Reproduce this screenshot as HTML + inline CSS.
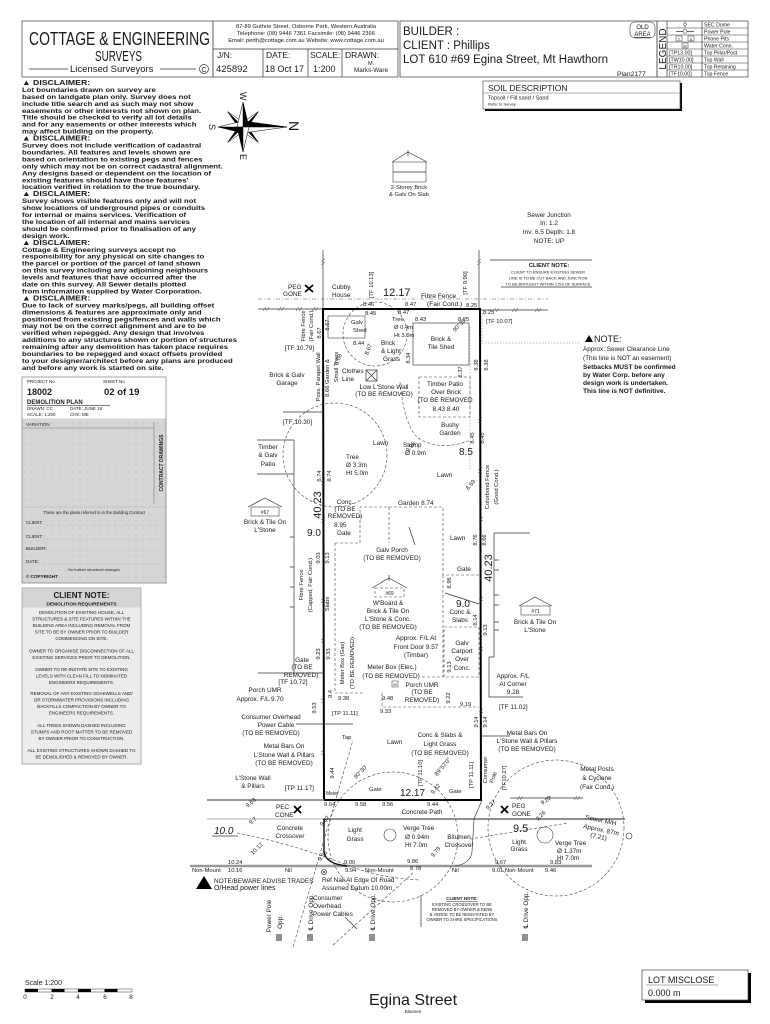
<!DOCTYPE html>
<html><head><meta charset="utf-8">
<style>
html,body{margin:0;padding:0;background:#fff;}
svg{display:block;}
text{font-family:"Liberation Sans","DejaVu Sans",sans-serif;fill:#1a1a1a;}
.a{font-size:6.4px}
.t{font-size:5.8px}
.b{font-size:5.2px}
.c{font-size:7px}
.m{text-anchor:middle}
.d{fill:none;stroke:#444;stroke-width:0.6;stroke-dasharray:3 2}
.dd{fill:none;stroke:#555;stroke-width:0.6;stroke-dasharray:4 2 1 2}
.l{fill:none;stroke:#333;stroke-width:0.7}
.g{fill:none;stroke:#999;stroke-width:0.8}
.k{fill:none;stroke:#000;stroke-width:2}
.tk{fill:none;stroke:#333;stroke-width:0.5}
.dis{font-size:6.6px;font-weight:bold}
</style></head><body>
<svg width="770" height="1024" viewBox="0 0 770 1024" xmlns="http://www.w3.org/2000/svg">
<defs>
<pattern id="dots" width="7" height="7" patternUnits="userSpaceOnUse"><rect width="7" height="7" fill="#d6d6d6"/><circle cx="3" cy="3" r="0.5" fill="#aaa"/></pattern>
</defs>

<!-- HEADER -->
<rect x="22" y="21" width="191" height="56" fill="none" stroke="#555" stroke-width="0.8"/>
<text x="29" y="45" font-size="18" textLength="181" lengthAdjust="spacingAndGlyphs" fill="#222">COTTAGE &amp; ENGINEERING</text>
<text x="95" y="61" font-size="15" textLength="47" lengthAdjust="spacingAndGlyphs">SURVEYS</text>
<line x1="29" y1="69" x2="68" y2="69" class="l"/>
<text x="70" y="72" font-size="9.5" fill="#333">Licensed Surveyors</text>
<line x1="160" y1="69" x2="196" y2="69" class="l"/>
<circle cx="204" cy="69" r="4.5" fill="none" stroke="#333" stroke-width="0.7"/>
<text x="204" y="72" font-size="7" class="m">C</text>

<rect x="213" y="21" width="185" height="56" fill="none" stroke="#555" stroke-width="0.8"/>
<text x="306" y="28" font-size="5.8" class="m" fill="#333">87-89 Guthrie Street, Osborne Park, Western Australia</text>
<text x="306" y="35" font-size="5.8" class="m" fill="#333">Telephone: (08) 9446 7361   Facsimile: (08) 9446 2366</text>
<text x="306" y="42" font-size="5.8" class="m" fill="#333">Email: perth@cottage.com.au   Website: www.cottage.com.au</text>
<line x1="213" y1="49" x2="398" y2="49" class="l"/>
<line x1="263" y1="49" x2="263" y2="77" class="l"/>
<line x1="308" y1="49" x2="308" y2="77" class="l"/>
<line x1="342" y1="49" x2="342" y2="77" class="l"/>
<text x="217" y="58" font-size="8.5" fill="#333">J/N:</text>
<text x="216" y="72" font-size="9.5">425892</text>
<text x="266" y="58" font-size="8.5" fill="#333">DATE:</text>
<text x="265" y="72" font-size="9">18 Oct 17</text>
<text x="310" y="58" font-size="8.5" fill="#333">SCALE:</text>
<text x="313" y="72" font-size="9">1:200</text>
<text x="345" y="58" font-size="8.5" fill="#333">DRAWN:</text>
<text x="371" y="65" font-size="5.5" class="m">M.</text>
<text x="371" y="72" font-size="6.3" class="m">Marks-Ware</text>

<rect x="400" y="21" width="257" height="56" fill="none" stroke="#555" stroke-width="0.8"/>
<text x="403" y="35" font-size="11.5">BUILDER :</text>
<text x="403" y="49" font-size="11.5">CLIENT : Phillips</text>
<text x="403" y="63" font-size="11.5">LOT 610   #69 Egina Street, Mt Hawthorn</text>
<text x="617" y="76" font-size="6.8">Plan2177</text>
<rect x="630" y="22" width="25" height="16" rx="5" fill="none" stroke="#444" stroke-width="0.6"/>
<text x="642.5" y="29" font-size="6" class="m">OLD</text>
<text x="642.5" y="36" font-size="6" class="m" text-decoration="underline">AREA</text>

<rect x="657" y="21" width="91" height="56" fill="none" stroke="#555" stroke-width="0.8"/>
<line x1="667" y1="21" x2="667" y2="77" class="l"/>
<line x1="702" y1="21" x2="702" y2="77" class="l"/>
<g class="tk">
<line x1="667" y1="28" x2="748" y2="28"/><line x1="667" y1="35" x2="748" y2="35"/><line x1="667" y1="42" x2="748" y2="42"/><line x1="667" y1="49" x2="748" y2="49"/><line x1="667" y1="56" x2="748" y2="56"/><line x1="667" y1="63" x2="748" y2="63"/><line x1="667" y1="70" x2="748" y2="70"/>
</g>
<text transform="translate(666,49) rotate(-90)" font-size="10" class="m">LEGEND</text>
<line x1="685" y1="21.5" x2="685" y2="27.5" class="l"/><circle cx="685" cy="24.5" r="1.5" fill="#fff" stroke="#333" stroke-width="0.5"/>
<line x1="676" y1="31.5" x2="694" y2="31.5" class="l"/><circle cx="685" cy="31.5" r="2" fill="#fff" stroke="#333" stroke-width="0.5"/>
<rect x="676" y="36" width="6" height="5" fill="none" stroke="#333" stroke-width="0.5"/><rect x="688" y="36" width="6" height="5" fill="none" stroke="#333" stroke-width="0.5"/>
<text x="679" y="40.3" font-size="4" class="m">T</text><text x="691" y="40.3" font-size="4" class="m">S</text>
<rect x="682" y="43" width="6" height="5" fill="none" stroke="#333" stroke-width="0.5"/><text x="685" y="47.3" font-size="4" class="m">W</text>
<text x="669" y="54.5" font-size="5.3">[TP13.00]</text>
<text x="669" y="61.5" font-size="5.3">[TW10.00]</text>
<text x="669" y="68.5" font-size="5.3">[TR10.00]</text>
<text x="669" y="75.5" font-size="5.3">[TF10.00]</text>
<g font-size="5.2">
<text x="704" y="26.5">SEC Dome</text><text x="704" y="33.5">Power Pole</text><text x="704" y="40.5">Phone Pits</text><text x="704" y="47.5">Water Conn.</text><text x="704" y="54.5">Top Pillar/Post</text><text x="704" y="61.5">Top Wall</text><text x="704" y="68.5">Top Retaining</text><text x="704" y="75.5">Top Fence</text>
</g>

<!-- DISCLAIMERS -->
<g transform="translate(22,0) scale(1.18,1) translate(-22,0)">
<text class="dis">
<tspan x="22" y="85" font-size="7.4">▲ DISCLAIMER:</tspan>
<tspan x="22" dy="6.95">Lot boundaries drawn on survey are</tspan>
<tspan x="22" dy="6.95">based on landgate plan only. Survey does not</tspan>
<tspan x="22" dy="6.95">include title search and as such may not show</tspan>
<tspan x="22" dy="6.95">easements or other interests not shown on plan.</tspan>
<tspan x="22" dy="6.95">Title should be checked to verify all lot details</tspan>
<tspan x="22" dy="6.95">and for any easements or other interests which</tspan>
<tspan x="22" dy="6.95">may affect building on the property.</tspan>
<tspan x="22" dy="6.95" font-size="7.4">▲ DISCLAIMER:</tspan>
<tspan x="22" dy="6.95">Survey does not include verification of cadastral</tspan>
<tspan x="22" dy="6.95">boundaries. All features and levels shown are</tspan>
<tspan x="22" dy="6.95">based on orientation to existing pegs and fences</tspan>
<tspan x="22" dy="6.95">only which may not be on correct cadastral alignment.</tspan>
<tspan x="22" dy="6.95">Any designs based or dependent on the location of</tspan>
<tspan x="22" dy="6.95">existing features should have those features'</tspan>
<tspan x="22" dy="6.95">location verified in relation to the true boundary.</tspan>
<tspan x="22" dy="6.95" font-size="7.4">▲ DISCLAIMER:</tspan>
<tspan x="22" dy="6.95">Survey shows visible features only and will not</tspan>
<tspan x="22" dy="6.95">show locations of underground pipes or conduits</tspan>
<tspan x="22" dy="6.95">for internal or mains services. Verification of</tspan>
<tspan x="22" dy="6.95">the location of all internal and mains services</tspan>
<tspan x="22" dy="6.95">should be confirmed prior to finalisation of any</tspan>
<tspan x="22" dy="6.95">design work.</tspan>
<tspan x="22" dy="6.95" font-size="7.4">▲ DISCLAIMER:</tspan>
<tspan x="22" dy="6.95">Cottage &amp; Engineering surveys accept no</tspan>
<tspan x="22" dy="6.95">responsibility for any physical on site changes to</tspan>
<tspan x="22" dy="6.95">the parcel or portion of the parcel of land shown</tspan>
<tspan x="22" dy="6.95">on this survey including any adjoining neighbours</tspan>
<tspan x="22" dy="6.95">levels and features that have occurred after the</tspan>
<tspan x="22" dy="6.95">date on this survey. All Sewer details plotted</tspan>
<tspan x="22" dy="6.95">from information supplied by Water Corporation.</tspan>
<tspan x="22" dy="6.95" font-size="7.4">▲ DISCLAIMER:</tspan>
<tspan x="22" dy="6.95">Due to lack of survey marks/pegs, all building offset</tspan>
<tspan x="22" dy="6.95">dimensions &amp; features are approximate only and</tspan>
<tspan x="22" dy="6.95">positioned from existing pegs/fences and walls which</tspan>
<tspan x="22" dy="6.95">may not be on the correct alignment and are to be</tspan>
<tspan x="22" dy="6.95">verified when repegged. Any design that involves</tspan>
<tspan x="22" dy="6.95">additions to any structures shown or portion of structures</tspan>
<tspan x="22" dy="6.95">remaining after any demolition has taken place requires</tspan>
<tspan x="22" dy="6.95">boundaries to be repegged and exact offsets provided</tspan>
<tspan x="22" dy="6.95">to your designer/architect before any plans are produced</tspan>
<tspan x="22" dy="6.95">and before any work is started on site.</tspan>
</text>
</g>

<!-- COMPASS -->
<g stroke="#000" stroke-width="0.5" stroke-linejoin="round">
<polygon points="243,127 258.5,111.5 245.8,129.8" fill="#000"/><polygon points="243,127 258.5,111.5 240.2,124.2" fill="#fff"/>
<polygon points="243,127 258.5,142.5 245.8,124.2" fill="#000"/><polygon points="243,127 258.5,142.5 240.2,129.8" fill="#fff"/>
<polygon points="243,127 227.5,142.5 240.2,124.2" fill="#000"/><polygon points="243,127 227.5,142.5 245.8,129.8" fill="#fff"/>
<polygon points="243,127 227.5,111.5 240.2,129.8" fill="#000"/><polygon points="243,127 227.5,111.5 245.8,124.2" fill="#fff"/>
<polygon points="243,127 287,127 243,121" fill="#000"/><polygon points="243,127 287,127 243,133" fill="#fff"/>
<polygon points="243,127 218,127 243,133" fill="#000"/><polygon points="243,127 218,127 243,121" fill="#fff"/>
<polygon points="243,127 243,102 249,127" fill="#000"/><polygon points="243,127 243,102 237,127" fill="#fff"/>
<polygon points="243,127 243,152 237,127" fill="#000"/><polygon points="243,127 243,152 249,127" fill="#fff"/>
</g>
<text transform="translate(289,121) rotate(90)" font-size="14">N</text>
<text transform="translate(209,124) rotate(90)" font-size="9">S</text>
<text transform="translate(240,92) rotate(90)" font-size="9">W</text>
<text transform="translate(240,154) rotate(90)" font-size="9">E</text>

<!-- 2 storey house -->
<polyline points="392,162 408,152 427,162" class="l"/>
<line x1="408" y1="150" x2="408" y2="156" class="l"/>
<rect x="393" y="162" width="33" height="20" fill="none" stroke="#444" stroke-width="0.6"/>
<line x1="393" y1="172" x2="426" y2="172" class="l"/>
<text x="409" y="189" class="t m">2-Storey Brick</text>
<text x="409" y="196" class="t m">&amp; Galv On Slab</text>

<!-- SOIL -->
<rect x="485" y="83" width="197" height="28" fill="#000"/>
<rect x="483" y="81" width="197" height="28" fill="#fff" stroke="#555" stroke-width="0.7"/>
<text x="488" y="91" font-size="8.5">SOIL DESCRIPTION</text>
<line x1="483" y1="93" x2="680" y2="93" class="g"/>
<text x="488" y="99.5" font-size="5.6">Topsoil / Fill sand / Sand</text>
<text x="488" y="105.5" font-size="4">Refer to Survey</text>

<!-- Sewer junction -->
<text x="549" y="217" class="a m">Sewer Junction</text>
<text x="549" y="225" class="a m">In: 1.2</text>
<text x="549" y="234" class="a m">Inv: 6.5 Depth: 1.8</text>
<text x="549" y="243" class="a m">NOTE: UP</text>
<line x1="490" y1="260" x2="592" y2="260" class="l"/>
<text x="549" y="267" font-size="5.8" font-weight="bold" class="m">CLIENT NOTE:</text>
<text x="548" y="273.5" font-size="4" class="m">CLIENT TO ENSURE EXISTING SEWER</text>
<text x="548" y="279.5" font-size="4" class="m">LINE IS TO BE CUT BACK AND JUNCTION</text>
<text x="548" y="285.5" font-size="4" class="m">TO BE BROUGHT WITHIN 1.5m OF SURFACE</text>
<line x1="501" y1="287" x2="592" y2="287" class="l"/>

<!-- NOTE right -->
<polygon points="585,342 589,335 593,342" fill="#000"/>
<text x="594" y="342" font-size="9">NOTE:</text>
<text x="583" y="351" class="a">Approx. Sewer Clearance Line</text>
<text x="583" y="360" class="a">(This line is NOT an easement)</text>
<g font-size="6.6" font-weight="bold">
<text x="583" y="369">Setbacks MUST be confirmed</text>
<text x="583" y="377">by Water Corp. before any</text>
<text x="583" y="385">design work is undertaken.</text>
<text x="583" y="393">This line is NOT definitive.</text>
</g>
<line x1="482" y1="343" x2="580" y2="343" stroke="#777" stroke-width="0.6" stroke-dasharray="1.5 1.5"/>
<line x1="482" y1="313" x2="482" y2="343" stroke="#777" stroke-width="0.6" stroke-dasharray="1.5 1.5"/>

<!-- LEFT PANELS -->
<rect x="22" y="377" width="144" height="206" fill="url(#dots)" stroke="#888" stroke-width="0.8"/>
<rect x="22.4" y="377.4" width="143.2" height="41" fill="#fff"/>
<text x="27" y="383" font-size="4.5" fill="#555">PROJECT No</text>
<text x="103" y="383" font-size="4.5" fill="#555">SHEET No</text>
<text x="27" y="395" font-size="9" font-weight="bold">18002</text>
<text x="104" y="395" font-size="9.5" font-weight="bold">02  of 19</text>
<text x="27" y="404" font-size="6" font-weight="bold">DEMOLITION PLAN</text>
<line x1="27" y1="405.3" x2="110" y2="405.3" class="l"/>
<text x="27" y="410" font-size="4.5" fill="#444">DRAWN: CC</text><text x="70" y="410" font-size="4.5" fill="#444">DATE: JUNE 18</text>
<text x="27" y="416" font-size="4.5" fill="#444">SCALE: 1:200</text><text x="70" y="416" font-size="4.5" fill="#444">CHK: ME</text>
<text x="26" y="426" font-size="4.5" fill="#444">VARIATION</text>
<line x1="22" y1="428" x2="154" y2="428" class="g"/>
<line x1="154" y1="422" x2="154" y2="504" stroke="#777" stroke-width="0.6"/>
<text transform="translate(163,463) rotate(-90)" font-size="5" font-weight="bold" class="m">CONTRACT DRAWINGS</text>
<line x1="22" y1="507" x2="166" y2="507" stroke="#999" stroke-width="0.6" stroke-dasharray="1 1"/>
<text x="94" y="514" font-size="4.2" class="m" fill="#333">These are the plans referred to in the Building Contract</text>
<text x="26" y="524" font-size="4.5" fill="#444">CLIENT:</text><line x1="45" y1="525" x2="160" y2="525" stroke="#aaa" stroke-width="0.5" stroke-dasharray="1 1"/>
<text x="26" y="538" font-size="4.5" fill="#444">CLIENT:</text><line x1="45" y1="539" x2="160" y2="539" stroke="#aaa" stroke-width="0.5" stroke-dasharray="1 1"/>
<text x="26" y="550" font-size="4.5" fill="#444">BUILDER:</text><line x1="48" y1="551" x2="160" y2="551" stroke="#aaa" stroke-width="0.5" stroke-dasharray="1 1"/>
<text x="26" y="563" font-size="4.5" fill="#444">DATE:</text><line x1="42" y1="564" x2="160" y2="564" stroke="#aaa" stroke-width="0.5" stroke-dasharray="1 1"/>
<text x="94" y="571" font-size="4" class="m" fill="#333">No further structural changes</text>
<text x="26" y="578" font-size="4.6" font-weight="bold">© COPYRIGHT</text>

<rect x="22" y="588" width="119" height="176" fill="#ececec" stroke="#999" stroke-width="0.8"/>
<rect x="22.4" y="588.4" width="118.2" height="19" fill="#d4d4d4"/>
<text x="81.5" y="598" font-size="8" font-weight="bold" class="m">CLIENT NOTE:</text>
<text x="81.5" y="605.5" font-size="4.8" font-weight="bold" class="m">DEMOLITION REQUIREMENTS</text>
<g font-size="4.5" text-anchor="middle" fill="#333">
<text x="81.5" y="614">DEMOLITION OF EXISTING HOUSE, ALL</text>
<text x="81.5" y="620.5">STRUCTURES &amp; SITE FEATURES WITHIN THE</text>
<text x="81.5" y="627">BUILDING AREA INCLUDING REMOVAL FROM</text>
<text x="81.5" y="633.5">SITE TO BE BY OWNER PRIOR TO BUILDER</text>
<text x="81.5" y="640">COMMENCING ON SITE.</text>
<text x="81.5" y="652.5">OWNER TO ORGANISE DISCONNECTION OF ALL</text>
<text x="81.5" y="659">EXISTING SERVICES PRIOR TO DEMOLITION.</text>
<text x="81.5" y="671">OWNER TO RE-INSTATE SITE TO EXISTING</text>
<text x="81.5" y="677.5">LEVELS WITH CLEAN FILL TO NOMINATED</text>
<text x="81.5" y="684">ENGINEERS REQUIREMENTS.</text>
<text x="81.5" y="695">REMOVAL OF ANY EXISTING SOAKWELLS AND/</text>
<text x="81.5" y="701.5">OR STORMWATER PROVISIONS INCLUDING</text>
<text x="81.5" y="708">BACKFILLS COMPACTION BY OWNER TO</text>
<text x="81.5" y="714.5">ENGINEERS REQUIREMENTS.</text>
<text x="81.5" y="727">ALL TREES SHOWN DASHED INCLUDING</text>
<text x="81.5" y="733.5">STUMPS AND ROOT MATTER TO BE REMOVED</text>
<text x="81.5" y="740">BY OWNER PRIOR TO CONSTRUCTION.</text>
<text x="81.5" y="752">ALL EXISTING STRUCTURES SHOWN DASHED TO</text>
<text x="81.5" y="758.5">BE DEMOLISHED &amp; REMOVED BY OWNER.</text>
</g>

<!-- SITE LINES -->
<line x1="258" y1="299" x2="548" y2="299" class="dd"/>
<line x1="258" y1="309" x2="323" y2="309" class="l"/>
<line x1="480" y1="310" x2="548" y2="310" class="l"/>
<line x1="323" y1="250" x2="323" y2="309" class="l"/>
<line x1="479" y1="250" x2="479" y2="309" class="l"/>
<polygon points="323,309 480,309 481,800 324,800" class="k"/>
<g class="tk">
<path d="M263,311 l3,-4 M266,311 l3,-4 M278,311 l3,-4 M281,311 l3,-4 M296,311 l3,-4 M299,311 l3,-4 M312,311 l3,-4 M315,311 l3,-4"/>
<path d="M493,312 l3,-4 M496,312 l3,-4 M512,312 l3,-4 M515,312 l3,-4 M535,312 l3,-4 M538,312 l3,-4"/>
<path d="M321,262 l4,-3 M321,265 l4,-3 M477,262 l4,-3 M477,265 l4,-3"/>
<path d="M321,482 l4,-3 M321,485 l4,-3 M321,520 l4,-3 M321,523 l4,-3 M321,600 l4,-3 M321,603 l4,-3 M321,640 l4,-3 M321,643 l4,-3 M321,700 l4,-3 M321,703 l4,-3 M321,752 l4,-3 M321,755 l4,-3"/>
<path d="M478,420 l4,-3 M478,423 l4,-3 M478,470 l4,-3 M478,473 l4,-3 M479,520 l4,-3 M479,523 l4,-3 M479,600 l4,-3 M479,603 l4,-3 M479,650 l4,-3 M479,653 l4,-3 M479,712 l4,-3 M479,715 l4,-3"/>
</g>

<!-- top-left features -->
<line x1="305" y1="285" x2="313" y2="292" stroke="#000" stroke-width="1.8"/><line x1="313" y1="285" x2="305" y2="292" stroke="#000" stroke-width="1.8"/>
<text x="288" y="289" class="a">PEG</text>
<text x="283" y="296" class="a">GONE</text>
<text x="332" y="289" class="a">Cubby</text>
<text x="332" y="297" class="a">House</text>
<text transform="translate(373,285) rotate(-90)" class="t m">[TF 10.13]</text>
<text x="383" y="296" font-size="11">12.17</text>
<text x="421" y="298" font-size="6.6">Fibre Fence</text>
<text x="427" y="306" font-size="6.6">(Fair Cond.)</text>
<text transform="translate(467,283) rotate(-90)" class="t m">[TF 9.90]</text>
<circle cx="375" cy="334" r="32" class="d"/>
<rect x="328" y="316" width="37" height="22" fill="none" stroke="#444" stroke-width="0.6"/>
<rect x="413" y="323" width="56" height="42" fill="none" stroke="#444" stroke-width="0.7"/>
<rect x="366" y="370" width="11" height="11" fill="none" stroke="#333" stroke-width="0.7"/>
<path d="M366,370 L377,381 M377,370 L366,381" class="l"/>
<rect x="419" y="377" width="51" height="40" class="d"/>
<path d="M400,382 Q404,425 418,438 Q440,452 471,440" class="d"/>
<line x1="470" y1="327" x2="470" y2="470" stroke="#888" stroke-width="0.5" stroke-dasharray="1.5 1.5"/>
<g class="t">
<text x="363" y="306">8.46</text><text x="365" y="315">8.45</text>
<text x="405" y="306">8.47</text><text x="398" y="314">8.47</text>
<text x="466" y="307">8.25</text><text x="483" y="314">8.25</text><text x="458" y="321">8.25</text>
<text x="486" y="323">[TF 10.07]</text>
<text x="392" y="321">Tree</text><text x="394" y="329">Ø 0.4m</text><text x="394" y="337">Ht 3.0m</text>
<text x="415" y="321">8.43</text>
<text x="351" y="324">Galv</text><text x="353" y="332">Shed</text>
<text x="353" y="345">8.44</text>
<text transform="translate(410,358) rotate(-90)" class="m">8.34</text>
<text transform="translate(455,332) rotate(-45)">90°30'</text>
<text transform="translate(462,372) rotate(-90)" class="m">8.37</text>
<text transform="translate(478,365) rotate(-90)" class="m">8.38</text>
<text transform="translate(488,365) rotate(-90)" class="m">8.38</text>
<text transform="translate(370,350) rotate(-70)" class="m">8.67</text>
<text transform="translate(340,360) rotate(-70)" class="m">5.08</text>
</g>
<g class="a">
<text x="381" y="345">Brick</text><text x="381" y="353">&amp; Light</text><text x="383" y="361">Grass</text>
<text x="441" y="341" class="m">Brick &amp;</text><text x="441" y="349" class="m">Tile Shed</text>
<text x="342" y="373">Clothes</text><text x="342" y="381">Line</text>
<text x="384" y="389" class="m">Low L'Stone Wall</text><text x="384" y="396" class="m">(TO BE REMOVED)</text>
<text x="445" y="386" class="m">Timber Patio</text><text x="446" y="394" class="m">Over Brick</text><text x="445" y="402" class="m">(TO BE REMOVED</text><text x="446" y="411" class="m">8.43  8.40</text>
<text x="287" y="377" class="m">Brick &amp; Galv</text><text x="287" y="385" class="m">Garage</text>
<text x="285" y="350">[TF 10.79]</text>
<text x="283" y="424">[TF 10.30]</text>
<text x="268" y="449" class="m">Timber</text><text x="268" y="457" class="m">&amp; Galv</text><text x="268" y="466" class="m">Patio</text>
<text x="373" y="445">Lawn</text>
<text x="403" y="447">Stump</text><text x="405" y="455">Ø 0.9m</text>
<text x="450" y="427" class="m">Bushy</text><text x="450" y="435" class="m">Garden</text>
<text x="346" y="459">Tree</text><text x="346" y="467">Ø 3.3m</text><text x="346" y="475">Ht 5.0m</text>
<text x="437" y="477">Lawn</text>
</g>
<text x="459" y="455" font-size="10">8.5</text>
<g class="t">
<text transform="translate(305,326) rotate(-90)" class="m">Fibre Fence</text>
<text transform="translate(313,326) rotate(-90)" class="m">(Fair Cond.)</text>
<text transform="translate(321,333) rotate(-90)" class="m">8.67</text>
<text transform="translate(329,325) rotate(-90)" class="m">8.67</text>
<text transform="translate(320,377) rotate(-90)" class="m">Poss. Parapet Wall</text>
<text transform="translate(329,378) rotate(-90)" class="m">8.66 Garden &amp;</text>
<text transform="translate(338,367) rotate(-90)" class="m">Small Trees</text>
<text transform="translate(474,438) rotate(-90)" class="m">8.45</text>
<text transform="translate(484,438) rotate(-90)" class="m">8.45</text>
<text transform="translate(321,476) rotate(-90)" class="m">8.74</text>
<text transform="translate(331,476) rotate(-90)" class="m">8.74</text>
<text transform="translate(472,486) rotate(-50)" class="m">8.69</text>
<text transform="translate(412,448) rotate(-50)" class="m">9.96</text>
</g>
<line x1="283" y1="412" x2="323" y2="412" class="l"/>
<circle cx="335" cy="455" r="52" class="d"/>
<line x1="257" y1="440" x2="294" y2="440" class="l"/>
<line x1="257" y1="474" x2="294" y2="474" class="l"/>
<line x1="294" y1="440" x2="294" y2="673" class="l"/>
<line x1="258" y1="673" x2="323" y2="673" class="l"/>
<path d="M290,537 h4 M290,567 h4 M290,587 h4 M290,607 h4" class="l"/>

<!-- middle -->
<text transform="translate(321,505) rotate(-90)" font-size="11" class="m">40.23</text>
<text transform="translate(492,568) rotate(-90)" font-size="11" class="m">40.23</text>
<text x="307" y="536" font-size="10">9.0</text>
<text x="456" y="607" font-size="10">9.0</text>
<polyline points="248,507 265,498 282,507" class="l"/>
<rect x="251" y="507" width="28" height="9" fill="none" stroke="#444" stroke-width="0.6"/>
<text x="265" y="514" font-size="5" class="m">#67</text>
<polyline points="372,588 389,578 407,588" class="l"/>
<line x1="389" y1="575" x2="389" y2="581" class="l"/>
<rect x="375" y="588" width="29" height="9" class="d"/>
<text x="389.5" y="595" font-size="5" class="m">#69</text>
<polyline points="519,606 535,597 552,606" class="l"/>
<rect x="521" y="606" width="29" height="9" fill="none" stroke="#444" stroke-width="0.6"/>
<text x="535.5" y="613" font-size="5" class="m">#71</text>
<path d="M335,543 L360,543 L360,507 L443,507 L443,575 L479,575" class="d"/>
<line x1="389" y1="507" x2="389" y2="543" class="d"/>
<path d="M335,543 L335,693 L365,693" class="d"/>
<path d="M443,575 L443,677 L420,677" class="d"/>
<rect x="444" y="627" width="35" height="50" class="d"/>
<path d="M382,693 L382,707 L479,707" class="d"/>
<line x1="445" y1="593" x2="479" y2="604" class="l"/>
<line x1="409" y1="527" x2="415" y2="545" class="l"/>
<line x1="494" y1="533" x2="494" y2="657" class="l"/>
<line x1="494" y1="533" x2="530" y2="533" class="l"/>
<path d="M494,560 h5 M494,570 h5 M494,595 h5 M494,605 h5 M494,622 h5 M494,630 h5" class="l"/>
<path d="M494,657 L489,657 L489,697 L523,697" class="l"/>
<line x1="481" y1="736" x2="510" y2="736" class="l"/>
<g class="a">
<text x="345" y="504" class="m">Conc.</text><text x="345" y="511" class="m">(TO BE</text><text x="345" y="518" class="m">REMOVED)</text>
<text x="334" y="527">8.95</text><text x="337" y="535">Gate</text>
<text x="265" y="524" class="m">Brick &amp; Tile On</text><text x="265" y="532" class="m">L'Stone</text>
<text x="398" y="505">Garden  8.74</text>
<text x="392" y="552" class="m">Galv Porch</text><text x="392" y="560" class="m">(TO BE REMOVED)</text>
<text x="450" y="540">Lawn</text>
<text x="457" y="571">Gate</text>
<text x="388" y="605" class="m">W'Board &amp;</text><text x="388" y="613" class="m">Brick &amp; Tile On</text><text x="388" y="621" class="m">L'Stone &amp; Conc.</text><text x="388" y="629" class="m">(TO BE REMOVED)</text>
<text x="460" y="614" class="m">Conc &amp;</text><text x="460" y="622" class="m">Slabs</text>
<text x="416" y="640" class="m">Approx. F/L At</text><text x="416" y="649" class="m">Front Door 9.57</text><text x="416" y="657" class="m">(Timbar)</text>
<text x="462" y="645" class="m">Galv</text><text x="462" y="653" class="m">Carport</text><text x="462" y="661" class="m">Over</text><text x="462" y="670" class="m">Conc.</text>
<text x="392" y="669" class="m">Meter Box (Elec.)</text><text x="391" y="678" class="m">(TO BE REMOVED)</text>
<text x="302" y="662" class="m">Gate</text><text x="302" y="669" class="m">(TO BE</text><text x="301" y="677" class="m">REMOVED)</text><text x="293" y="684" class="m">[TF 10.72]</text>
<text x="265" y="692" class="m">Porch UMR</text><text x="260" y="701" class="m">Approx. F/L 9.70</text>
<text x="422" y="687" class="m">Porch UMR</text><text x="422" y="694" class="m">(TO BE</text><text x="422" y="702" class="m">REMOVED)</text>
<text x="271" y="719" class="m">Consumer Overhead</text><text x="276" y="727" class="m">Power Cable</text><text x="271" y="735" class="m">(TO BE REMOVED)</text>
<text x="387" y="744">Lawn</text>
<text x="440" y="737" class="m">Conc &amp; Slabs &amp;</text><text x="440" y="746" class="m">Light Grass</text><text x="440" y="755" class="m">(TO BE REMOVED)</text>
<text x="284" y="748" class="m">Metal Bars On</text><text x="284" y="757" class="m">L'Stone Wall &amp; Pillars</text><text x="284" y="765" class="m">(TO BE REMOVED)</text>
<text x="253" y="780" class="m">L'Stone Wall</text><text x="253" y="788" class="m">&amp; Pillars</text>
<text x="285" y="790">[TP 11.17]</text>
<text x="535" y="624" class="m">Brick &amp; Tile On</text><text x="535" y="632" class="m">L'Stone</text>
<text x="513" y="678" class="m">Approx. F/L</text><text x="513" y="686" class="m">At Corner</text><text x="513" y="694" class="m">9.28</text>
<text x="499" y="709">[TF 11.02]</text>
<text x="527" y="735" class="m">Metal Bars On</text><text x="527" y="743" class="m">L'Stone Wall &amp; Pillars</text><text x="527" y="751" class="m">(TO BE REMOVED)</text>
<text x="597" y="771" class="m">Metal Posts</text><text x="597" y="780" class="m">&amp; Cyclone</text><text x="597" y="789" class="m">(Fair Cond.)</text>
</g>
<line x1="296" y1="724" x2="353" y2="724" class="l"/>
<rect x="392" y="681" width="6" height="6" fill="none" stroke="#333" stroke-width="0.5"/>
<text x="395" y="686" font-size="4" class="m">M</text>
<g class="t">
<text transform="translate(489,487) rotate(-90)" class="m">Colorbond Fence</text>
<text transform="translate(498,487) rotate(-90)" class="m">(Good Cond.)</text>
<text transform="translate(477,540) rotate(-90)" class="m">8.76</text>
<text transform="translate(486,540) rotate(-90)" class="m">8.66</text>
<text transform="translate(320,558) rotate(-90)" class="m">9.03</text>
<text transform="translate(329,558) rotate(-90)" class="m">9.13</text>
<text transform="translate(303,585) rotate(-90)" class="m">Fibre Fence</text>
<text transform="translate(312,585) rotate(-90)" class="m">(Capped, Fair Cond.)</text>
<text transform="translate(451,583) rotate(-90)" class="m">8.98</text>
<text transform="translate(329,604) rotate(-90)" class="m">Slabs</text>
<text transform="translate(477,620) rotate(-90)" class="m">8.14</text>
<text transform="translate(487,630) rotate(-90)" class="m">9.13</text>
<text transform="translate(451,667) rotate(-90)" class="m">9.13</text>
<text transform="translate(320,654) rotate(-90)" class="m">9.23</text>
<text transform="translate(330,654) rotate(-90)" class="m">9.33</text>
<text transform="translate(344,663) rotate(-90)" class="m">Meter Box (Gas)</text>
<text transform="translate(354,663) rotate(-90)" class="m">(TO BE REMOVED)</text>
<text x="338" y="700">9.38</text><text x="382" y="700">9.48</text><text x="380" y="713">9.33</text>
<text transform="translate(450,698) rotate(-90)" class="m">9.22</text>
<text x="460" y="706">9.19</text>
<text transform="translate(332,694) rotate(-90)" class="m">9.4</text>
<text transform="translate(316,708) rotate(-90)" class="m">9.53</text>
<text x="332" y="715">[TP 11.11]</text>
<text x="342" y="739">Tap</text>
<text transform="translate(478,722) rotate(-90)" class="m">9.14</text>
<text transform="translate(487,722) rotate(-90)" class="m">9.14</text>
<text transform="translate(334,773) rotate(-90)" class="m">9.44</text>
<text transform="translate(356,779) rotate(-45)">90°30'</text>
<text transform="translate(422,773) rotate(-90)" class="m">[TP 11.10]</text>
<text transform="translate(473,775) rotate(-90)" class="m">[TP 11.11]</text>
<text transform="translate(487,770) rotate(-90)" class="m">Consumer</text>
<text transform="translate(495,778) rotate(-70)" class="m">Pole</text>
<text transform="translate(506,778) rotate(-90)" class="m">[TF10.27]</text>
<text transform="translate(444,768) rotate(-50)" class="m">89°57'0"</text>
<text transform="translate(437,790) rotate(-50)" class="m">9.42</text>
</g>

<!-- bottom lot -->
<line x1="207" y1="800" x2="324" y2="800" stroke="#999" stroke-width="2"/>
<line x1="207" y1="819" x2="324" y2="819" class="g"/>
<line x1="324" y1="819" x2="625" y2="819" stroke="#222" stroke-width="1.1"/>
<line x1="190" y1="866" x2="592" y2="866" stroke="#999" stroke-width="2.5"/>
<path d="M324,819 L324,852 Q326,864 347,866" fill="none" stroke="#111" stroke-width="1.4"/>
<path d="M482,800 L474,819 L472,852 Q470,864 455,866" fill="none" stroke="#444" stroke-width="0.7"/>
<circle cx="393" cy="837" r="65" class="d"/>
<circle cx="556" cy="828" r="68" class="d"/>
<path d="M237,833 Q290,843 350,866 Q380,878 420,880" class="d"/>
<path d="M470,839 L568,823" class="d"/>
<circle cx="390" cy="835" r="6" fill="none" stroke="#444" stroke-width="0.6"/>
<circle cx="545" cy="835" r="8" fill="none" stroke="#444" stroke-width="0.6"/>
<line x1="293" y1="947" x2="353" y2="740" class="d"/>
<line x1="333" y1="945" x2="413" y2="873" class="d"/>
<line x1="510" y1="798" x2="583" y2="798" class="l"/>
<path d="M517,800 l3,-4 M520,800 l3,-4 M545,800 l3,-4 M548,800 l3,-4 M574,800 l3,-4 M577,800 l3,-4" class="tk"/>
<line x1="294" y1="806" x2="301" y2="813" stroke="#000" stroke-width="1.8"/><line x1="301" y1="806" x2="294" y2="813" stroke="#000" stroke-width="1.8"/>
<line x1="501" y1="806" x2="508" y2="813" stroke="#000" stroke-width="1.8"/><line x1="508" y1="806" x2="501" y2="813" stroke="#000" stroke-width="1.8"/>
<circle cx="324" cy="872" r="2.5" fill="none" stroke="#000" stroke-width="0.6"/><circle cx="324" cy="872" r="0.9" fill="#000"/>
<circle cx="629" cy="836" r="3" fill="none" stroke="#333" stroke-width="0.6"/>
<text x="400" y="796" font-size="10">12.17</text>
<text x="513" y="832" font-size="11">9.5</text>
<text x="214" y="834" font-size="10" font-style="italic">10.0</text>
<line x1="212" y1="836" x2="238" y2="836" class="l"/>
<g class="t">
<text x="326" y="795" font-size="5">Meter</text>
<text x="369" y="791">Gate</text><text x="449" y="793">Gate</text>
<text x="324" y="806">9.64</text><text x="355" y="806">9.58</text><text x="382" y="806">9.56</text><text x="427" y="806">9.44</text>
<text transform="translate(252,804) rotate(-40)" class="m">9.63</text>
<text transform="translate(254,822) rotate(-40)" class="m">9.7</text>
<text transform="translate(258,850) rotate(-45)" class="m">10.12</text>
<text transform="translate(326,822) rotate(-50)" class="m">9.82</text>
<text transform="translate(324,857) rotate(-50)" class="m">9.96</text>
<text transform="translate(437,853) rotate(-50)" class="m">9.79</text>
<text transform="translate(492,806) rotate(-45)" class="m">9.37</text>
<text transform="translate(542,817) rotate(-45)" class="m">9.26</text>
<text transform="translate(547,802) rotate(-30)" class="m">9.27</text>
<text x="228" y="864">10.24</text><text x="344" y="864">9.00</text><text x="407" y="863">9.86</text>
<text x="192" y="872">Non-Mount</text><text x="228" y="872">10.16</text><text x="285" y="872">Nil</text>
<text x="345" y="872">9.94</text><text x="365" y="872">Non-Mount</text><text x="410" y="870">8.78</text><text x="452" y="872">Nil</text>
<text x="495" y="864">9.67</text><text x="550" y="864">9.83</text>
<text x="492" y="872">9.01 Non-Mount</text><text x="545" y="872">9.46</text>
</g>
<g class="a">
<text x="276" y="809">PEC</text><text x="275" y="817">CONE</text>
<text x="422" y="814" class="m">Concrete Path</text>
<text x="290" y="830" class="m">Concrete</text><text x="290" y="838" class="m">Crossover</text>
<text x="355" y="832" class="m">Light</text><text x="355" y="841" class="m">Grass</text>
<text x="403" y="830">Verge Tree</text><text x="405" y="839">Ø 0.94m</text><text x="405" y="847">Ht 7.0m</text>
<text x="459" y="839" class="m">Bitumen</text><text x="459" y="847" class="m">Crossover</text>
<text x="512" y="808">PEG</text><text x="512" y="816">GONE</text>
<text transform="translate(585,819) rotate(12)">Sewer M/H</text>
<text transform="translate(583,828) rotate(12)">Approx. 87m</text>
<text transform="translate(590,837) rotate(12)">(7.21)</text>
<text x="519" y="844" class="m">Light</text><text x="519" y="851" class="m">Grass</text>
<text x="555" y="845">Verge Tree</text><text x="557" y="853">Ø 1.37m</text><text x="557" y="860">Ht 7.0m</text>
<text x="322" y="882">Ref Nail At Edge Of Road</text><text x="322" y="890">Assumed Datum 10.00m</text>
<text x="313" y="900">Consumer</text><text x="313" y="908">Overhead</text><text x="313" y="916">Power Cables</text>
</g>
<line x1="345" y1="917" x2="357" y2="929" class="l"/>
<polygon points="196,889 212,889 204,876" fill="#000"/>
<text x="206" y="888" font-size="6" fill="#fff" class="m">!</text>
<text x="214" y="883" font-size="6.4">NOTE/BEWARE ADVISE TRADES</text>
<text x="214" y="890" font-size="7">O/Head power lines</text>

<!-- road client note -->
<line x1="421" y1="895" x2="421" y2="927" class="l"/>
<text x="462" y="900" font-size="4.5" font-weight="bold" class="m" text-decoration="underline">CLIENT NOTE:</text>
<g font-size="4.1" class="m" text-anchor="middle">
<text x="462" y="906">EXISTING CROSSOVER TO BE</text>
<text x="462" y="911">REMOVED BY OWNER &amp; KERB</text>
<text x="462" y="916">&amp; VERGE TO BE REINSTATED BY</text>
<text x="462" y="921">OWNER TO SHIRE SPECIFICATIONS</text>
</g>

<!-- drive opp -->
<g class="a">
<text transform="translate(271,916) rotate(-90)" class="m">Power Pole</text>
<text transform="translate(282,922) rotate(-90)" class="m">Opp.</text>
<text transform="translate(313,912) rotate(-90)" class="m">℄ Drive Opp.</text>
<text transform="translate(375,912) rotate(-90)" class="m">℄ Drive Opp.</text>
<text transform="translate(528,910) rotate(-90)" class="m">℄ Drive Opp.</text>
</g>
<g stroke="#222" stroke-width="1">
<path d="M277,934 v7 M279,934 v7 M281,934 v7"/>
<path d="M308,934 v7 M310,934 v7 M312,934 v7"/>
<path d="M370,934 v7 M372,934 v7 M374,934 v7"/>
<path d="M523,934 v7 M525,934 v7 M527,934 v7"/>
</g>

<!-- BOTTOM -->
<text x="25" y="985" font-size="7">Scale  1:200</text>
<rect x="25" y="989" width="107" height="3" fill="#fff" stroke="#333" stroke-width="0.5"/>
<rect x="25" y="989" width="13" height="3" fill="#000"/><rect x="51.5" y="989" width="13" height="3" fill="#000"/><rect x="78" y="989" width="13" height="3" fill="#000"/><rect x="104.5" y="989" width="13" height="3" fill="#000"/>
<g font-size="6.3" text-anchor="middle">
<text x="25" y="999">0</text><text x="52" y="999">2</text><text x="78" y="999">4</text><text x="105" y="999">6</text><text x="131" y="999">8</text>
</g>
<text x="413" y="1005" font-size="16" class="m">Egina Street</text>
<text x="413" y="1013" font-size="4.5" class="m">Bitumen</text>
<rect x="645" y="973" width="106" height="30" fill="#000"/>
<rect x="642" y="970" width="106" height="30" fill="#fff" stroke="#444" stroke-width="0.7"/>
<text x="648" y="983" font-size="9">LOT MISCLOSE</text>
<line x1="646" y1="985" x2="718" y2="985" class="g"/>
<text x="648" y="996" font-size="9">0.000 m</text>
</svg>
</body></html>
